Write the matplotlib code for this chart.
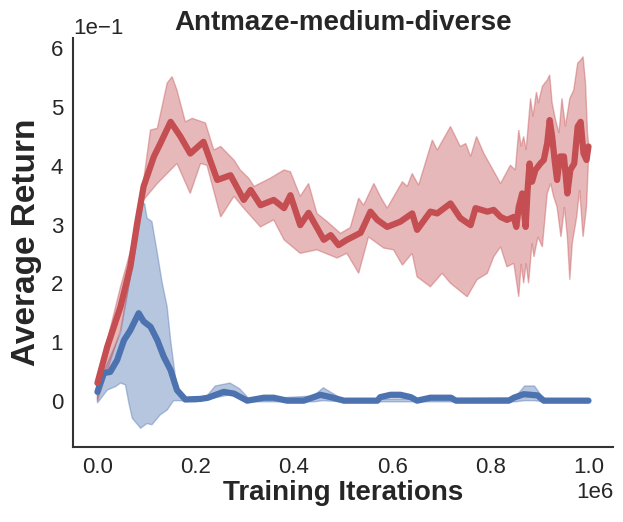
import matplotlib
matplotlib.use("Agg")
import matplotlib.pyplot as plt
import numpy as np
import seaborn as sns

sns.set_style("white")
plt.rcParams['font.family'] = ['Liberation Sans', 'DejaVu Sans']

# offline RL curve (x in 1e6 iterations)
red_x = [0, .02, .047, .067, .081, .094, .115, .128, .149, .169, .189, .216, .244,
         .271, .298, .312, .332, .359, .38, .393, .413, .43, .461, .475, .491, .508,
         .536, .556, .570, .590, .617, .641, .651, .678, .692, .719, .739, .760, .770,
         .794, .807, .821, .834, .848, .853, .858, .865, .872, .876, .880, .885, .892,
         .902, .909, .916, .921, .926, .931, .936, .942, .950, .957, .963, .971, .978,
         .984, .990, .996, 1.0]
red_mean = [.030, .092, .160, .228, .303, .365, .416, .438, .475, .450, .421, .441, .376,
            .384, .342, .359, .333, .342, .328, .350, .299, .320, .274, .282, .265, .274,
            .286, .322, .308, .296, .305, .319, .291, .322, .319, .336, .311, .299, .328,
            .322, .325, .313, .308, .313, .296, .330, .353, .296, .359, .404, .373, .393,
            .404, .410, .439, .478, .450, .410, .376, .416, .416, .353, .393, .404, .467,
            .475, .421, .410, .433]

red_hi_x = [0, .047, .081, .108, .122, .142, .152, .162, .179, .193, .220, .237, .251,
            .278, .291, .308, .319, .352, .380, .393, .413, .430, .447, .468, .495, .515,
            .532, .542, .563, .576, .590, .621, .631, .641, .654, .682, .692, .719, .739,
            .750, .760, .772, .787, .821, .841, .851, .858, .863, .868, .873, .882, .887,
            .894, .898, .906, .911, .916, .921, .926, .933, .940, .946, .953, .962, .970,
            .978, .984, .989, .994, .998, 1.0]
red_hi = [.035, .194, .296, .461, .464, .541, .552, .529, .475, .481, .473, .427, .433,
          .410, .393, .379, .365, .379, .393, .390, .348, .370, .319, .305, .285, .295,
          .345, .333, .370, .348, .328, .373, .365, .387, .367, .444, .427, .467, .433,
          .438, .416, .450, .421, .370, .401, .393, .461, .433, .450, .427, .515, .484,
          .526, .507, .535, .541, .546, .555, .507, .478, .456, .515, .467, .515, .529,
          .575, .580, .586, .541, .456, .440]

red_lo_x = [0, .047, .081, .094, .122, .162, .189, .210, .223, .251, .278, .301, .332,
            .359, .380, .413, .447, .488, .508, .532, .552, .583, .603, .621, .641, .651,
            .678, .702, .719, .753, .773, .794, .807, .821, .834, .848, .858, .863, .868,
            .873, .878, .885, .889, .897, .906, .916, .923, .929, .936, .944, .951, .957,
            .962, .967, .976, .982, .989, .996, 1.0]
red_lo = [.0, .120, .274, .342, .370, .404, .353, .404, .401, .313, .348, .325, .296,
          .308, .274, .251, .257, .243, .251, .217, .279, .260, .257, .231, .251, .211,
          .194, .217, .200, .177, .206, .217, .245, .262, .228, .234, .177, .233, .200,
          .234, .200, .268, .245, .279, .262, .353, .370, .348, .330, .279, .330, .279,
          .206, .268, .313, .359, .279, .330, .410]

# baseline curve
blue_x = [0, .013, .026, .040, .054, .067, .084, .094, .108, .122, .135, .149, .162,
          .179, .21, .225, .257, .278, .305, .339, .359, .386, .420, .454, .475, .502,
          .570, .576, .597, .617, .638, .651, .678, .720, .730, .838, .848, .868, .896,
          .909, 1.0]
blue_mean = [.015, .047, .049, .069, .103, .120, .149, .135, .126, .103, .075, .052, .018,
             .002, .003, .005, .015, .012, .0, .005, .005, .0, .0, .010, .006, .0,
             .0, .006, .010, .010, .006, .0, .005, .005, .0, .0, .005, .011, .009,
             .0, .0]

blue_hi_x = [0, .013, .047, .074, .088, .096, .101, .111, .122, .132, .142, .149, .162,
             .171, .22, .24, .27, .29, .31, .44, .46, .48, .50, .85, .87, .89, .91, 1.0]
blue_hi = [.015, .05, .115, .245, .33, .336, .311, .305, .251, .2, .16, .103, .02,
           .004, .005, .025, .03, .02, .002, .008, .022, .012, .002, .005, .025, .025,
           .002, .002]

blue_lo_x = [0, .02, .037, .047, .057, .064, .071, .088, .101, .111, .128, .142, .155,
             .166, .2, .24, .27, .29, .31, .44, .46, .50, .85, .87, .89, .91, 1.0]
blue_lo = [-.004, .018, .024, .03, .027, -.004, -.03, -.047, -.039, -.041, -.024, -.016, .0,
           .0, -.002, .005, .01, .005, -.002, -.002, .0, -.002, -.002, .0, .0, -.002, -.002]

red = "#c44e52"
blue = "#4c72b0"

fig, ax = plt.subplots(figsize=(6.23, 5.22), dpi=100)
fig.subplots_adjust(left=0.117, right=0.984, bottom=0.144, top=0.927)


def band(xs_hi, hi, xs_lo, lo, color):
    px = np.concatenate([np.array(xs_hi), np.array(xs_lo)[::-1]]) * 1e6
    py = np.concatenate([np.array(hi), np.array(lo)[::-1]])
    ax.fill(px, py, color=color, alpha=0.4, lw=1)


band(blue_hi_x, blue_hi, blue_lo_x, blue_lo, blue)
band(red_hi_x, red_hi, red_lo_x, red_lo, red)
ax.plot(np.array(blue_x) * 1e6, blue_mean, color=blue, lw=4.5, solid_capstyle='round',
        solid_joinstyle='round')
ax.plot(np.array(red_x) * 1e6, red_mean, color=red, lw=4.5, solid_capstyle='round',
        solid_joinstyle='round')

ax.set_title("Antmaze-medium-diverse", fontsize=20, fontweight='bold', color='.15')
ax.set_xlabel("Training Iterations", fontsize=20, fontweight='bold', color='.15', labelpad=2)
ax.set_ylabel("Average Return", fontsize=24, fontweight='bold', color='.15', labelpad=6)
ax.ticklabel_format(style='sci', scilimits=(0, 0), axis='both')
ax.tick_params(labelsize=16, colors='.15')
ax.xaxis.get_offset_text().set_fontsize(16)
ax.yaxis.get_offset_text().set_fontsize(16)
for s in ['left', 'bottom']:
    ax.spines[s].set_linewidth(1.5)
    ax.spines[s].set_color('.2')
sns.despine(ax=ax)

fig.savefig("out.png")
